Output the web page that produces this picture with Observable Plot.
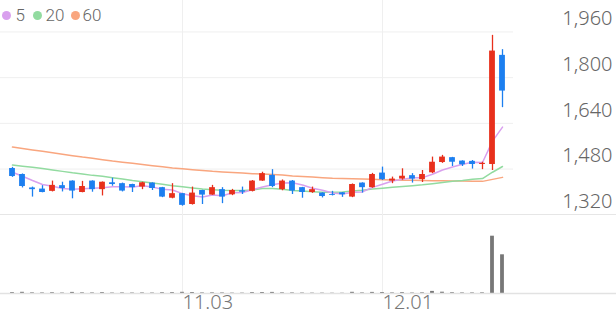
<!DOCTYPE html>
<html><head><meta charset="utf-8">
<script src="https://cdn.jsdelivr.net/npm/d3@7"></script>
<script src="https://cdn.jsdelivr.net/npm/@observablehq/plot@0.6"></script>
<style>
body{margin:0;background:#fff;}
#chart{position:relative;width:616px;height:321px;font-family:Roboto,"Noto Sans",sans-serif;overflow:hidden;}
#price{position:absolute;left:0;top:0;}
#vol{position:absolute;left:0;top:215px;}
.lg{position:absolute;top:5px;font-size:17px;color:#666;font-weight:300;line-height:20px;}
.dot{position:absolute;top:11px;width:9px;height:9px;border-radius:50%;}
</style></head><body>
<div id="chart">
  <div id="price"></div>
  <div id="vol"></div>
</div>
<script>
const dates = ["10.02","10.10","10.13","10.14","10.15","10.16","10.17","10.20","10.21","10.22","10.23","10.24","10.27","10.28","10.29","10.30","10.31","11.03","11.04","11.05","11.06","11.07","11.10","11.11","11.12","11.13","11.14","11.17","11.18","11.19","11.20","11.21","11.24","11.25","11.26","11.27","11.28","12.01","12.02","12.03","12.04","12.05","12.08","12.09","12.10","12.11","12.12","12.15","12.16","12.17"];
const open  = [1482,1461,1414,1410,1402,1422,1438,1398,1438,1408,1432,1429,1426,1417,1431,1415,1378,1394,1356,1405,1389,1408,1390,1404,1402,1438,1458,1408,1438,1415,1398,1396,1391,1397,1382,1431,1415,1466,1438,1445,1457,1443,1467,1503,1520,1508,1507,1496,1496,1878];
const high  = [1486,1463,1417,1422,1438,1434,1439,1437,1439,1435,1448,1431,1427,1434,1432,1416,1429,1395,1417,1406,1423,1415,1409,1417,1440,1469,1478,1442,1440,1416,1417,1397,1402,1398,1428,1432,1465,1487,1452,1481,1464,1475,1522,1528,1521,1509,1510,1504,1948,1898];
const low   = [1451,1414,1382,1397,1400,1400,1376,1397,1399,1386,1420,1400,1398,1408,1405,1380,1376,1350,1354,1356,1388,1359,1387,1391,1400,1437,1415,1404,1391,1378,1395,1379,1386,1381,1380,1396,1413,1440,1429,1441,1431,1433,1464,1500,1489,1489,1480,1478,1475,1695];
const close = [1454,1419,1408,1398,1423,1412,1403,1419,1408,1434,1426,1403,1415,1432,1412,1382,1394,1353,1396,1389,1415,1382,1405,1399,1438,1464,1419,1438,1403,1398,1408,1384,1388,1390,1426,1415,1461,1443,1445,1455,1445,1461,1504,1522,1504,1495,1496,1500,1893,1753];
const volume = [90000,120000,70000,60000,80000,50000,110000,70000,60000,90000,50000,60000,50000,60000,50000,80000,90000,120000,100000,60000,70000,60000,40000,40000,90000,100000,110000,70000,60000,50000,40000,40000,30000,30000,120000,60000,110000,100000,60000,90000,50000,70000,210000,130000,80000,60000,60000,70000,5730000,3870000];
const ma5  = [1469,1455,1440,1426,1420,1412,1409,1411,1413,1415,1418,1418,1417,1422,1417,1409,1407,1394,1387,1382,1389,1387,1397,1398,1408,1417,1425,1431,1432,1424,1413,1406,1396,1393,1399,1400,1416,1427,1438,1444,1450,1450,1462,1477,1487,1497,1504,1503,1578,1627];
const ma20 = [1494,1490,1486,1482,1477,1472,1467,1463,1458,1455,1450,1445,1440,1436,1431,1427,1422,1418,1414,1410,1408,1406,1405,1405,1407,1412,1412,1409,1405,1403,1401,1399,1399,1400,1403,1406,1410,1413,1416,1419,1422,1425,1429,1433,1437,1440,1444,1447,1469,1489];
const ma60 = [1557,1552,1547,1542,1537,1532,1527,1522,1518,1513,1508,1504,1500,1496,1492,1488,1484,1481,1478,1475,1472,1470,1468,1466,1464,1463,1461,1459,1456,1454,1452,1450,1448,1447,1446,1445,1444,1443,1442,1441,1441,1440,1439,1439,1438,1438,1437,1437,1444,1451];
const priceTicks = [1320,1480,1640,1800,1960];
const dateTicks = ["11.03","12.01"];
const maNames = ["5","20","60"];
const maColors = ["#d9a0ee","#92dba0","#f9a67f"];

const UP = "#e8301c", DOWN = "#1c7ff0";
const rows = dates.map((d,i)=>({date:d, open:open[i], high:high[i], low:low[i], close:close[i], volume:volume[i], ma5:ma5[i], ma20:ma20[i], ma60:ma60[i]}));
const col = d => d.close >= d.open ? UP : DOWN;
const W = 616, MR = 103;

const xScale = {type:"band", domain:dates, padding:0};

const price = Plot.plot({
  width: W, height: 215,
  marginLeft: 0, marginRight: MR, marginTop: 0, marginBottom: 0,
  x: {...xScale, axis:null},
  y: {domain:[1320, 2070], range:[214.3, 0], axis:null},
  marks: [
    Plot.ruleY(priceTicks.slice(1), {stroke:"#efefef", strokeWidth:1}),
    Plot.ruleY([priceTicks[0]], {stroke:"#e6e6e6", strokeWidth:1.5, insetRight:-MR}),
    Plot.ruleX(dateTicks, {stroke:"#efefef", strokeWidth:1}),
    Plot.line(rows, {x:"date", y:"ma60", stroke:maColors[2], strokeWidth:1.5}),
    Plot.line(rows, {x:"date", y:"ma20", stroke:maColors[1], strokeWidth:1.5}),
    Plot.line(rows, {x:"date", y:"ma5", stroke:maColors[0], strokeWidth:1.5}),
    Plot.ruleX(rows, {x:"date", y1:"low", y2:"high", stroke:col, strokeWidth:1.3}),
    Plot.barY(rows, {x:"date", y1:"open", y2:"close", fill:col, insetLeft:2.1, insetRight:2.1}),
    Plot.text(priceTicks, {y:d=>d, text:d=>d3.format(",")(d), frameAnchor:"right", dx:MR-4, dy:-13, textAnchor:"end", fontSize:20, fill:"#666", fontWeight:300})
  ]
});
document.getElementById("price").appendChild(price);

const vol = Plot.plot({
  width: W, height: 106,
  marginLeft: 0, marginRight: MR, marginTop: 0, marginBottom: 28,
  x: {...xScale, axis:null},
  y: {domain:[0, 7800000], axis:null},
  marks: [
    Plot.ruleX(dateTicks, {stroke:"#efefef", strokeWidth:1}),
    Plot.barY(rows, {x:"date", y:"volume", fill:"#777", insetLeft:3.1, insetRight:3.1}),
    Plot.ruleY([0], {stroke:"#e2e2e2", strokeWidth:1.5, insetRight:-MR}),
    Plot.text(dateTicks, {x:d=>d, text:d=>d, frameAnchor:"bottom", dy:15, textAnchor:"start", fontSize:20, fill:"#777", fontWeight:300})
  ]
});
document.getElementById("vol").appendChild(vol);

// legend
const chart = document.getElementById("chart");
const pos = [{dot:1.5, txt:15.5},{dot:33, txt:45.5},{dot:70.5, txt:82.5}];
maNames.forEach((n,i)=>{
  const d = document.createElement("span"); d.className="dot"; d.style.left=pos[i].dot+"px"; d.style.background=maColors[i]; chart.appendChild(d);
  const t = document.createElement("span"); t.className="lg"; t.style.left=pos[i].txt+"px"; t.textContent=n; chart.appendChild(t);
});
</script>
</body></html>
